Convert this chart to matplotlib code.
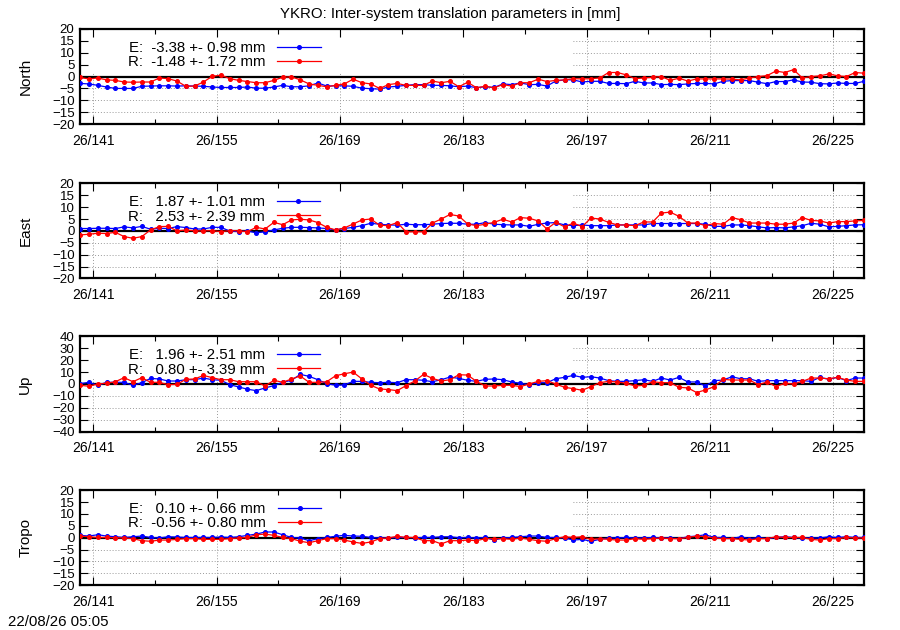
import matplotlib
matplotlib.use('Agg')
import matplotlib.pyplot as plt
from matplotlib.patches import Rectangle
import numpy as np

plt.rcParams['font.family'] = ['Liberation Sans', 'DejaVu Sans']
plt.rcParams['font.size'] = 10

# ---- data (mm), one value per day ----
title = 'YKRO: Inter-system translation parameters in [mm]'
stamp = '22/08/26 05:05'
year = 26
days = 139.5 + np.arange(90)          # daily solutions, doy 139.5 .. 228.5
major_days = [141, 155, 169, 183, 197, 211, 225]

north_E = [-2.9, -3.1, -3.7, -4.4, -5.0, -5.0, -5.0, -4.1, -4.0, -3.9,
           -3.9, -4.0, -3.9, -4.0, -4.1, -4.4, -4.6, -4.6, -4.6, -4.4,
           -4.9, -4.9, -4.4, -3.7, -4.3, -4.3, -3.9, -2.7, -4.0, -3.9,
           -3.9, -4.1, -4.9, -5.1, -5.3, -4.4, -4.1, -3.7, -3.4, -3.4,
           -3.7, -3.7, -3.9, -4.3, -4.0, -4.7, -4.3, -4.6, -3.1, -3.4,
           -2.7, -3.4, -3.3, -4.0, -1.9, -1.4, -1.4, -2.3, -2.0, -2.0,
           -2.9, -2.9, -3.0, -2.0, -2.7, -2.7, -3.4, -3.3, -3.4, -3.1,
           -2.9, -2.9, -3.1, -2.0, -1.7, -1.7, -1.7, -2.4, -3.0, -2.1,
           -2.1, -1.4, -2.3, -2.4, -3.0, -3.1, -2.7, -2.9, -2.9, -2.0]
north_R = [-0.4, -1.0, -0.6, -1.4, -1.6, -2.3, -2.4, -2.3, -2.3, -0.6,
           -0.9, -1.9, -4.1, -4.0, -2.3, 0.1, 0.6, -0.9, -1.6, -2.1,
           -2.6, -2.6, -1.6, -0.3, -0.1, -1.4, -3.1, -3.7, -4.3, -3.7,
           -3.1, -1.1, -2.6, -3.1, -5.0, -3.4, -2.9, -3.7, -3.7, -3.7,
           -1.9, -2.6, -2.0, -4.3, -2.4, -4.7, -4.1, -4.7, -3.4, -4.0,
           -2.6, -2.6, -1.1, -2.1, -1.6, -1.4, -0.9, -1.0, -0.9, -0.6,
           1.7, 1.7, 0.7, -0.9, -0.6, -0.3, 0.0, -1.6, -0.7, -1.9,
           -1.0, -1.0, -1.0, -1.0, -1.1, -1.4, -0.6, 0.0, 0.4, 2.3,
           1.7, 2.9, -0.6, 0.0, 0.3, 1.1, 0.3, 0.0, 1.7, 1.4]

east_E = [1.0, 1.0, 1.1, 1.1, 1.0, 1.7, 1.25, 1.9, 0.7, 1.1,
          1.0, 1.8, 1.4, 0.8, 0.8, 1.5, 1.5, -0.1, -0.3, -0.1,
          -0.8, -0.4, 0.4, 1.1, 1.5, 1.5, 1.4, 1.25, 1.0, 0.4,
          1.0, 1.5, 2.2, 3.2, 2.8, 2.5, 2.4, 2.8, 2.6, 2.6,
          2.8, 3.1, 3.2, 3.2, 2.8, 2.8, 3.5, 2.8, 2.6, 2.5,
          2.5, 1.9, 2.8, 3.3, 3.5, 2.5, 2.2, 2.5, 2.2, 2.2,
          2.2, 2.5, 2.5, 2.5, 2.5, 3.1, 3.1, 3.1, 3.1, 3.1,
          3.1, 2.8, 1.9, 1.9, 2.5, 2.5, 2.2, 1.7, 1.25, 1.4,
          1.25, 1.7, 2.2, 3.2, 2.8, 1.7, 1.9, 2.2, 2.5, 2.6]
east_R = [-1.7, -1.4, -1.0, -1.1, -0.6, -2.4, -3.1, -2.4, 0.4, 1.8,
          1.9, 0.0, 0.4, 0.0, 0.0, 0.1, -0.3, 0.1, 0.0, -0.3,
          1.5, 0.8, 3.6, 2.6, 4.6, 4.9, 4.6, 3.5, 1.5, 0.4,
          1.25, 2.9, 4.6, 5.0, 2.4, 2.2, 3.5, -0.4, -0.4, -0.4,
          3.3, 5.0, 6.9, 6.25, 2.9, 2.2, 2.8, 3.6, 4.9, 3.75,
          5.6, 5.3, 4.2, 0.8, 3.6, 1.7, 3.3, 1.8, 5.4, 5.0,
          3.6, 2.5, 2.5, 2.2, 3.75, 3.75, 7.5, 7.9, 6.1, 3.3,
          3.3, 2.2, 3.1, 2.8, 5.6, 4.7, 3.3, 3.3, 3.3, 2.8,
          2.8, 3.3, 5.6, 4.4, 4.2, 3.3, 3.9, 3.9, 4.2, 4.4]

up_E = [0.3, 1.4, -1.1, 1.4, 1.4, 1.4, -1.1, 1.1, 4.7, 4.2,
        2.5, 2.5, 3.6, 3.6, 5.0, 3.6, 3.1, -0.6, -2.5, -4.4,
        -5.6, -3.3, -1.4, 1.4, 3.1, 8.1, 6.4, 3.6, 0.3, -1.1,
        -0.8, 2.2, 2.2, 1.4, 1.1, 1.4, 1.1, 3.6, 3.6, 3.1,
        1.9, 3.6, 5.8, 4.7, 3.1, 2.2, 3.9, 4.2, 3.6, 1.7,
        0.6, -0.6, 1.1, 1.1, 4.4, 5.6, 7.2, 5.6, 6.1, 5.0,
        2.8, 2.2, 2.2, 2.8, 3.6, 2.2, 5.0, 3.3, 5.6, 1.7,
        1.7, -1.7, 2.8, 3.3, 6.1, 4.4, 4.4, 2.2, 2.8, 2.8,
        2.8, 2.8, 2.8, 2.2, 5.6, 3.9, 5.6, 2.8, 5.0, 5.0]
up_R = [-1.1, -1.9, 0.0, 0.6, 1.9, 5.3, 1.9, 5.3, 1.4, 1.4,
        -0.6, -0.3, 3.9, 4.2, 7.2, 5.3, 3.6, 3.6, 1.9, 1.9,
        1.9, -1.7, 3.1, 1.4, 4.2, 6.7, 1.4, 1.4, 1.9, 6.9,
        8.6, 10.0, 4.2, -1.1, -4.2, -4.7, -5.6, -1.4, 2.5, 8.1,
        4.7, 2.5, 3.6, 7.8, 7.5, 2.2, -1.7, -1.7, -1.1, -1.1,
        -2.2, 0.0, 2.2, 2.8, 0.0, -2.8, -3.9, -5.3, -2.2, 1.1,
        2.2, 1.7, 0.6, -1.7, -1.1, 1.9, 1.1, 1.1, -2.8, -3.3,
        -7.2, -5.0, -2.2, 3.9, 3.3, 3.3, 3.3, -0.6, 1.7, -2.2,
        0.6, 0.0, 2.2, 5.0, 5.0, 4.4, 5.6, 3.3, 2.2, 2.2]

tropo_E = [1.0, 0.7, 1.25, 0.7, 0.4, 0.1, 0.4, 0.7, 0.1, -0.1,
           0.4, 0.3, 0.1, 0.1, 0.1, 0.1, 0.3, 0.1, 0.4, 1.0,
           1.5, 2.4, 2.4, 1.25, 0.1, -0.1, -1.25, -0.4, 0.1, 0.6,
           1.0, 0.7, 0.6, 0.1, -0.1, -0.1, 0.1, 0.1, 0.0, 0.1,
           0.1, 0.4, 0.4, 0.0, 0.1, -0.1, 0.1, -1.0, -0.1, 0.1,
           0.4, 0.7, 0.7, 0.1, 0.1, -0.1, -1.0, -0.7, -1.5, -0.7,
           -0.1, -0.1, 0.1, -0.1, -0.1, 0.1, -0.1, -0.1, -0.4, 0.4,
           0.7, 1.25, 0.1, 0.1, -0.4, 0.4, -0.4, 0.1, -0.4, 0.1,
           0.4, 0.1, -0.1, -0.1, -0.1, 0.4, 0.1, 0.4, 0.1, 0.1]
tropo_R = [0.7, 0.4, 0.1, 0.1, 0.0, -0.1, -0.4, -1.25, -1.5, -1.0,
           -1.0, -0.7, -0.4, -0.4, -0.7, -0.7, -0.7, -0.4, -0.1, 0.1,
           1.25, 1.5, 1.0, 0.1, -0.4, -1.5, -2.1, -1.25, -0.4, -0.4,
           -1.0, -1.8, -2.4, -1.8, -0.4, -0.1, 0.6, 0.1, 0.1, -1.25,
           -1.25, -2.6, -1.25, -1.25, -1.0, -1.25, -0.4, -0.4, -0.4, -0.7,
           -0.1, -0.7, -1.25, -1.5, -0.4, 0.4, 0.1, 0.4, -0.7, -0.4,
           -0.7, -1.0, -1.0, -0.4, -0.7, -0.4, -0.1, -0.4, -0.4, 0.1,
           0.7, 0.4, -0.1, -0.4, -0.4, -0.7, -1.0, -0.4, -0.4, 0.4,
           0.1, 0.1, 0.1, -0.7, -1.0, -0.4, -0.4, 0.1, -0.1, -0.1]

panel_names = ['North', 'East', 'Up', 'Tropo']
panel_E = [north_E, east_E, up_E, tropo_E]
panel_R = [north_R, east_R, up_R, tropo_R]
labels_E = ['E:  -3.38 +- 0.98 mm', 'E:   1.87 +- 1.01 mm',
            'E:   1.96 +- 2.51 mm', 'E:   0.10 +- 0.66 mm']
labels_R = ['R:  -1.48 +- 1.72 mm', 'R:   2.53 +- 2.39 mm',
            'R:   0.80 +- 3.39 mm', 'R:  -0.56 +- 0.80 mm']
y_limits = [20, 20, 40, 20]
y_steps = [5, 5, 10, 5]

# ---- layout ----
fig = plt.figure(figsize=(9, 6.3), dpi=100)
left, width, height = 0.089, 0.871, 0.151
bottoms = [0.803, 0.558, 0.315, 0.071]

minor_days = [d + 7 for d in major_days[:-1]]

for k in range(4):
    ax = fig.add_axes([left, bottoms[k], width, height])
    lim = y_limits[k]
    yt = np.arange(-lim, lim + 1, y_steps[k])
    ax.set_xlim(days[0], days[-1])
    ax.set_ylim(-lim, lim)
    ax.set_yticks(yt)
    ax.set_xticks(major_days)
    ax.set_xticklabels(['%d/%d' % (year, d) for d in major_days])
    ax.set_xticks(minor_days, minor=True)
    ax.tick_params(which='major', direction='in', top=True, right=True,
                   length=6, width=0.8, pad=5)
    ax.tick_params(axis='x', which='major', pad=7, labelsize=10)
    ax.tick_params(axis='y', which='major', labelsize=9.5, pad=4)
    ax.tick_params(which='minor', direction='in', top=True, bottom=True,
                   length=3.5, width=0.8)
    for s in ax.spines.values():
        s.set_linewidth(1.6)

    # dotted grid (drawn by hand so the key box can hide it)
    for d in major_days:
        ax.axvline(d, color='#9a9a9a', lw=0.7, ls=(0, (1, 2)), zorder=0.5)
    for v in yt[1:-1]:
        ax.axhline(v, color='#9a9a9a', lw=0.7, ls=(0, (1, 2)), zorder=0.5)

    # opaque key area like gnuplot
    ax.add_patch(Rectangle((0.004, 0.55), 0.625, 0.44, transform=ax.transAxes,
                           facecolor='white', edgecolor='none', zorder=1))

    ax.axhline(0, color='black', lw=1.6, zorder=2)
    ax.plot(days, panel_E[k], '-o', color='#0000ff', lw=0.9, ms=2.6,
            label=labels_E[k], zorder=3)
    ax.plot(days, panel_R[k], '-o', color='#ff0000', lw=0.9, ms=2.6,
            label=labels_R[k], zorder=3)

    ax.legend(loc='upper left', bbox_to_anchor=(0.061, 0.875), frameon=False,
              markerfirst=False, handlelength=2.9, handletextpad=0.8,
              labelspacing=0.02, borderpad=0, borderaxespad=0, fontsize=10.8)

    ax.set_ylabel(panel_names[k], fontsize=11)
    ax.yaxis.set_label_coords(-0.061, 0.5)

fig.text(0.5, 1 - 14 / 630, title, ha='center', va='center', fontsize=10.8)
fig.text(8 / 900, 1 - 622 / 630, stamp, ha='left', va='center', fontsize=10.8)

fig.savefig('out.png', dpi=100)
